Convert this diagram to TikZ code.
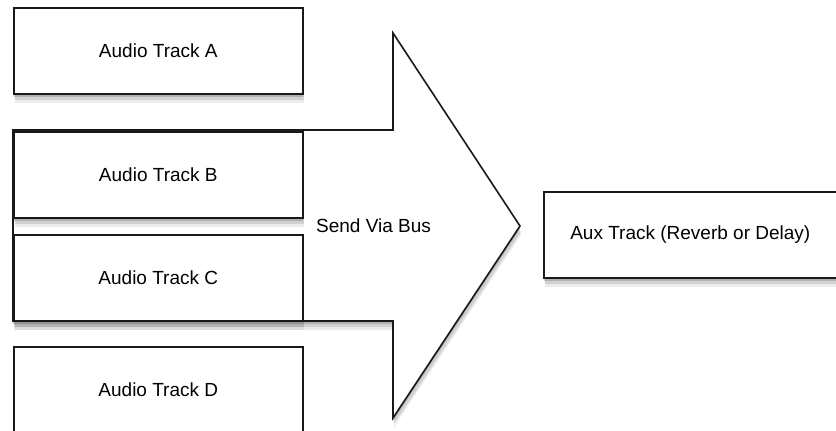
\documentclass[tikz,border=0pt]{standalone}
\usepackage{fontspec}
\setmainfont{Liberation Sans}
\usetikzlibrary{shadows,positioning}
\tikzset{
  softshadow/.style={drop shadow={shadow xshift=1pt,shadow yshift=-9pt,opacity=0.15},
    drop shadow={shadow xshift=1pt,shadow yshift=-6pt,opacity=0.25},
    drop shadow={shadow xshift=0pt,shadow yshift=-3pt,opacity=0.4}},
  track/.style={draw=black!90, fill=white, minimum width=289pt, minimum height=86pt,
    inner sep=0pt, anchor=north west, font=\fontsize{19}{23}\selectfont, softshadow}}

\begin{document}
\begin{tikzpicture}[x=1pt,y=-1pt,line width=1.6pt]
     \useasboundingbox (0,0) rectangle (836,431);
     \clip (0,0) rectangle (836,431);
     % the bus arrow, behind the tracks
     \draw[draw=black!90,fill=white,softshadow]
        (13,130) -- (393,130) -- (393,33) -- (520,226) -- (393,418) -- (393,321) -- (13,321) -- cycle;
     \node[anchor=west,font=\fontsize{19}{23}\selectfont] (bus) at (312,226) {Send Via Bus};
     % tracks
     \node[track] (trackA) at (13,7)   {Audio Track A};
     \node[track] (trackB) at (13,131) {Audio Track B};
     \node[track] (trackC) at (13,234) {Audio Track C};
     \node[track] (trackD) at (13,346) {Audio Track D};
     \node[track,minimum width=293pt] (aux) at (543,191) {Aux Track (Reverb or Delay)};
\end{tikzpicture}
\end{document}
